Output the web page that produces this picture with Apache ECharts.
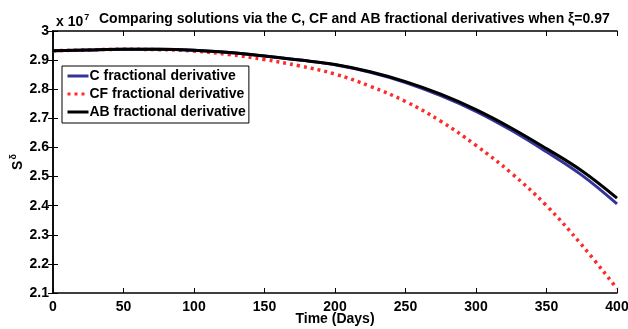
<!DOCTYPE html>
<html>
<head>
<meta charset="utf-8">
<script src="https://cdn.jsdelivr.net/npm/echarts@6/dist/echarts.min.js"></script>
<style>
  html, body { margin: 0; padding: 0; background: #fff; }
  #chart { width: 628px; height: 329px; }
</style>
</head>
<body>
<div id="chart"></div>
<script>
// Susceptible population S^δ (units of 10^7) over time, three fractional operators
const days = [0, 25, 50, 75, 100, 125, 150, 175, 200, 225, 250, 275, 300, 325, 350, 375, 400];
const caputo = [2.932, 2.935, 2.937, 2.937, 2.934, 2.926, 2.914, 2.900, 2.884, 2.858, 2.823, 2.778, 2.724, 2.659, 2.585, 2.505, 2.406];
const caputoFabrizio = [2.932, 2.935, 2.937, 2.936, 2.931, 2.919, 2.902, 2.880, 2.852, 2.810, 2.758, 2.690, 2.607, 2.512, 2.400, 2.265, 2.115];
const atanganaBaleanu = [2.932, 2.935, 2.937, 2.937, 2.934, 2.926, 2.914, 2.900, 2.885, 2.860, 2.826, 2.783, 2.730, 2.667, 2.596, 2.520, 2.426];

const xTicks = [0, 50, 100, 150, 200, 250, 300, 350, 400];
const yTicks = [2.1, 2.2, 2.3, 2.4, 2.5, 2.6, 2.7, 2.8, 2.9, 3];

const seriesNames = ['C fractional derivative', 'CF fractional derivative', 'AB fractional derivative'];

const FONT = '"Liberation Sans", Arial, Helvetica, sans-serif';
const pairs = arr => days.map((d, i) => [d, arr[i]]);

const chart = echarts.init(document.getElementById('chart'), null, { renderer: 'canvas' });

const tickStyle = { show: true, inside: true, length: 5, lineStyle: { color: '#000', width: 1 } };
const lineAxis = { show: true, lineStyle: { color: '#000', width: 1.5 } };
const labelFont = { fontFamily: FONT, fontSize: 14, fontWeight: 'bold', color: '#000' };

chart.setOption({
  animation: false,
  backgroundColor: '#fff',
  title: {
    text: 'Comparing solutions via the C, CF and AB fractional derivatives when ξ=0.97',
    left: 94,
    top: 7,
    textStyle: { fontFamily: FONT, fontSize: 14, fontWeight: 'bold', color: '#000' }
  },
  graphic: [{
    type: 'text',
    left: 56,
    top: 13,
    style: {
      text: 'x 10{sup|7}',
      fontFamily: FONT,
      fontSize: 14,
      fontWeight: 'bold',
      fill: '#000',
      rich: { sup: { fontSize: 9, fontWeight: 'bold', fontFamily: FONT, padding: [0, 0, 10, 1] } }
    }
  }],
  grid: { left: 53, right: 11, top: 31, bottom: 36, containLabel: false, outerBoundsMode: 'none' },
  legend: {
    data: seriesNames,
    orient: 'vertical',
    left: 62,
    top: 66,
    padding: [3, 3, 4, 4],
    itemGap: 4,
    itemWidth: 21,
    itemHeight: 14,
    backgroundColor: '#fff',
    borderColor: '#000',
    borderWidth: 1,
    borderRadius: 0,
    itemStyle: { opacity: 0 },
    lineStyle: { width: 3 },
    textStyle: { fontFamily: FONT, fontSize: 14, fontWeight: 'bold', color: '#000', padding: [0, 0, 0, -4] }
  },
  xAxis: [{
    type: 'value',
    min: 0, max: 400, interval: 50,
    name: 'Time (Days)',
    nameLocation: 'middle',
    nameGap: 19,
    nameMoveOverlap: false,
    nameTextStyle: labelFont,
    axisLine: lineAxis,
    axisTick: tickStyle,
    splitLine: { show: false },
    axisLabel: Object.assign({ margin: 7, customValues: xTicks, formatter: v => String(v) }, labelFont)
  }, {
    type: 'value',
    position: 'top',
    min: 0, max: 400, interval: 50,
    axisLine: lineAxis,
    axisTick: tickStyle,
    axisLabel: { show: false },
    splitLine: { show: false }
  }],
  yAxis: [{
    type: 'value',
    min: 2.1, max: 3.0, interval: 0.1,
    name: 'S{sup|δ}',
    nameLocation: 'middle',
    nameRotate: 90,
    nameGap: 25,
    nameMoveOverlap: false,
    nameTextStyle: Object.assign({
      rich: { sup: { fontFamily: FONT, fontSize: 9, fontWeight: 'bold', padding: [0, 0, 10, 1] } }
    }, labelFont),
    axisLine: lineAxis,
    axisTick: tickStyle,
    splitLine: { show: false },
    axisLabel: Object.assign({
      margin: 4,
      customValues: yTicks,
      formatter: v => (Math.abs(v - 3) < 1e-9 ? '3' : v.toFixed(1))
    }, labelFont)
  }, {
    type: 'value',
    position: 'right',
    min: 2.1, max: 3.0, interval: 0.1,
    axisLine: lineAxis,
    axisTick: tickStyle,
    axisLabel: { show: false },
    splitLine: { show: false }
  }],
  series: [{
    name: seriesNames[0],
    type: 'line',
    data: pairs(caputo),
    smooth: 0.4,
    symbol: 'none',
    color: '#333399',
    lineStyle: { color: '#333399', width: 3 },
    z: 2
  }, {
    name: seriesNames[1],
    type: 'line',
    data: pairs(caputoFabrizio),
    smooth: 0.4,
    symbol: 'none',
    color: '#ff2a2a',
    lineStyle: { color: '#ff2a2a', width: 3.5, type: [3, 4], cap: 'butt' },
    z: 1
  }, {
    name: seriesNames[2],
    type: 'line',
    data: pairs(atanganaBaleanu),
    smooth: 0.4,
    symbol: 'none',
    color: '#000',
    lineStyle: { color: '#000', width: 3 },
    z: 3
  }]
});
</script>
</body>
</html>
